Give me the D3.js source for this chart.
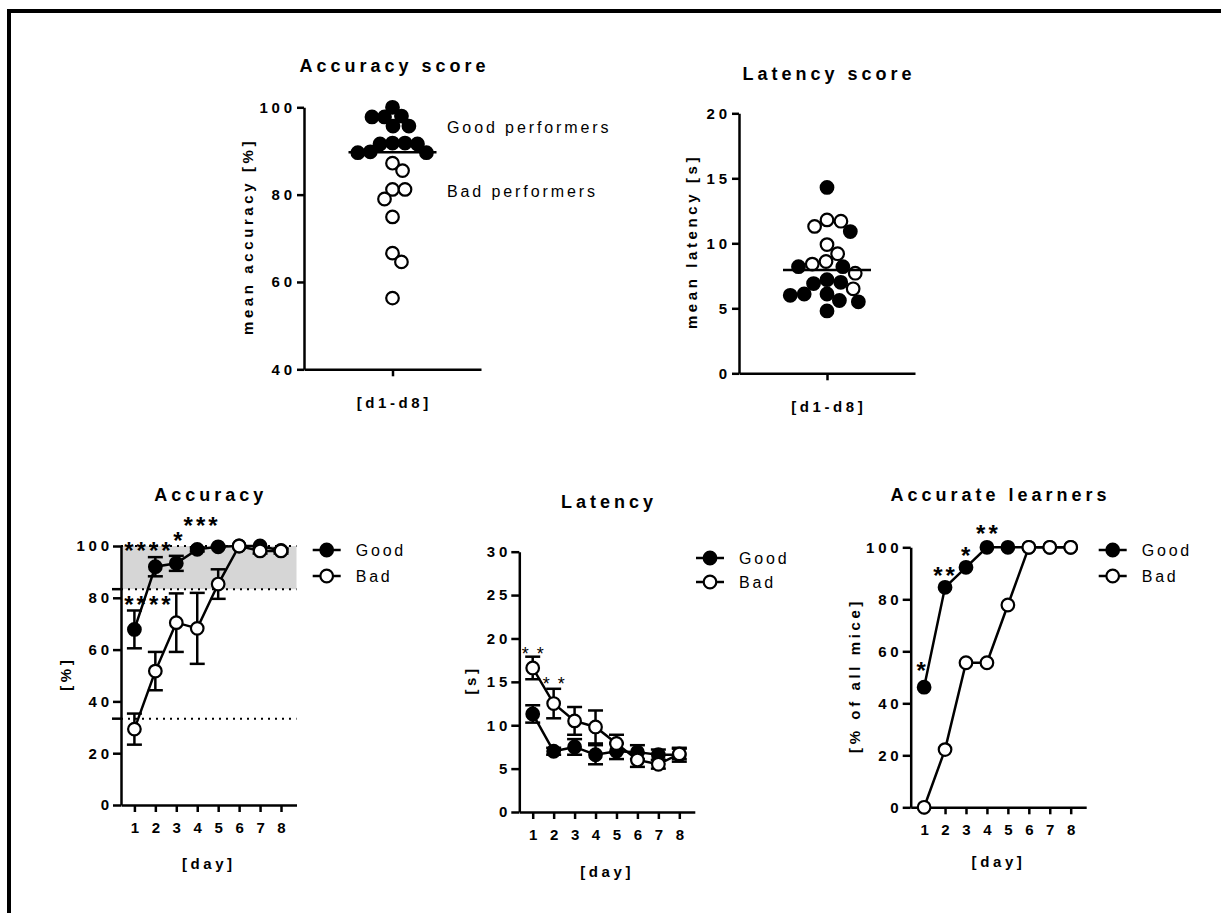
<!DOCTYPE html>
<html>
<head>
<meta charset="utf-8">
<script src="https://cdn.jsdelivr.net/npm/d3@7"></script>
<style>
body { margin: 0; background: #fff; }
text { font-family: "Liberation Sans", Arial, sans-serif; fill: #000; }
</style>
</head>
<body>
<script>
// mean score per mouse over d1-d8
var accGood = [100, 98, 97.8, 97.8, 95.7, 95.7, 91.8, 91.8, 91.6, 91.6, 89.8, 89.6, 89.6];
var accBad = [87.2, 85.5, 81.2, 81.2, 79, 74.9, 66.6, 64.6, 56.3];
var latGood = [14.3, 10.9, 8.2, 8.2, 7.2, 7.0, 6.9, 6.1, 6.1, 6.0, 5.6, 5.5, 4.8];
var latBad = [11.8, 11.7, 11.3, 9.9, 9.2, 8.6, 8.4, 7.7, 6.5];
var scoreLabels = ["Good performers", "Bad performers"];
var scoreLabelValues = [95.5, 80.8];

// per day (mean +- sem)
var days = [1, 2, 3, 4, 5, 6, 7, 8];
var goodAcc = [67.8, 92.0, 93.3, 98.7, 99.7, 100, 100, 98.3];
var goodAccErr = [7.3, 3.7, 2.9, 0.8, 0.3, 0, 0, 0.5];
var badAcc = [29.3, 51.7, 70.4, 68.2, 85.3, 100, 98.1, 98.1];
var badAccErr = [6.0, 7.4, 11.3, 13.7, 5.7, 0, 1, 1];
var goodLat = [11.3, 7.0, 7.5, 6.6, 7.0, 6.9, 6.6, 6.6];
var goodLatErr = [1.0, 0.4, 0.9, 1.1, 0.9, 0.8, 0.6, 0.8];
var badLat = [16.6, 12.5, 10.5, 9.8, 7.9, 6.0, 5.5, 6.7];
var badLatErr = [1.3, 1.7, 1.6, 1.9, 1.0, 0.8, 0.5, 0.6];
var goodLearn = [46.2, 84.6, 92.3, 100, 100, 100, 100, 100];
var badLearn = [0, 22.2, 55.6, 55.6, 77.8, 100, 100, 100];
var groups = ["Good", "Bad"];

// significance marks (day, value)
var accStars = [{day: 1.62, value: 100.4, label: "****"}, {day: 1.62, value: 79.5, label: "****"},
                {day: 3.08, value: 104, label: "*"}, {day: 4.16, value: 110, label: "***"}];
var latStars = [{day: 1.0, value: 18.7, label: "**"}, {day: 2.0, value: 15.2, label: "**"}];
var learnStars = [{day: 0.86, value: 54.7, label: "*"}, {day: 1.95, value: 91.3, label: "**"},
                  {day: 2.98, value: 99, label: "*"}, {day: 4.0, value: 107.4, label: "**"}];

var W = 1221, H = 913;
var svg = d3.select("body").append("svg").attr("width", W).attr("height", H);

// frame, runs off right and bottom
svg.append("rect").attr("x", 9).attr("y", 11).attr("width", W + 20).attr("height", H + 20)
  .attr("fill", "none").attr("stroke", "#000").attr("stroke-width", 4);

function addText(g, x, y, str, size, weight, ls, anchor) {
  var shift = anchor == "end" ? ls : anchor == "middle" ? ls / 2 : 0;
  return g.append("text").attr("x", x + shift).attr("y", y)
    .attr("text-anchor", anchor)
    .style("font-size", size + "px").style("font-weight", weight)
    .style("letter-spacing", ls + "px").text(str);
}
function addYLabel(g, x, y, str) {
  g.append("text").attr("transform", "translate(" + x + "," + y + ") rotate(-90)")
    .attr("x", 1.8).attr("text-anchor", "middle")
    .style("font-size", "15px").style("font-weight", "bold").style("letter-spacing", "3.6px")
    .text(str);
}
function styleAxis(a, anchor) {
  a.select(".domain").attr("stroke", "#000").attr("stroke-width", 2.5);
  a.selectAll(".tick line").attr("stroke", "#000").attr("stroke-width", 2.5);
  a.selectAll("text").attr("fill", "#000").attr("dx", anchor == "end" ? 3.8 : 1.9)
    .style("font-family", "'Liberation Sans', Arial, sans-serif")
    .style("font-size", "15px").style("font-weight", "bold").style("letter-spacing", "3.8px");
}
function dot(sel, filled) {
  sel.attr("r", 6.3).attr("fill", filled ? "#000" : "#fff").attr("stroke", "#000").attr("stroke-width", 2.2);
}

// simple beeswarm: nearest free spot to the column centre
function swarm(pts, minD) {
  var placed = [];
  pts.slice().sort(function(a, b) { return a.py - b.py; }).forEach(function(p) {
    var iv = [];
    placed.forEach(function(q) {
      var dy = Math.abs(q.py - p.py);
      if (dy < minD) { var w = Math.sqrt(minD * minD - dy * dy); iv.push([q.dx - w, q.dx + w]); }
    });
    var cands = [0];
    iv.forEach(function(d) { cands.push(d[0], d[1]); });
    cands.sort(function(a, b) { return Math.abs(a) - Math.abs(b) || b - a; });
    var best = cands.find(function(c) {
      return iv.every(function(d) { return c <= d[0] + 1e-6 || c >= d[1] - 1e-6; });
    });
    p.dx = best;
    placed.push(p);
  });
}

function scatterPanel(o) {
  var g = svg.append("g");
  var x = d3.scaleLinear().domain([0, 2]).range([o.left, o.right]);
  var y = d3.scaleLinear().domain(o.domain).range([o.bottom, o.top]);

  var ya = g.append("g").attr("transform", "translate(" + o.left + ",0)")
    .call(d3.axisLeft(y).tickValues(o.ticks).tickSize(7).tickSizeOuter(0).tickPadding(5));
  styleAxis(ya, "end");
  var xa = g.append("g").attr("transform", "translate(0," + o.bottom + ")")
    .call(d3.axisBottom(x).tickValues([1]).tickFormat("").tickSize(7).tickSizeOuter(0));
  styleAxis(xa, "middle");

  var pts = [];
  o.good.forEach(function(v) { pts.push({v: v, good: true, py: y(v)}); });
  o.bad.forEach(function(v) { pts.push({v: v, good: false, py: y(v)}); });
  swarm(pts, o.gap);

  g.selectAll(".pt").data(pts.filter(function(p) { return p.good; }).concat(pts.filter(function(p) { return !p.good; })))
    .enter().append("circle")
    .attr("cx", function(p) { return x(1) + p.dx; })
    .attr("cy", function(p) { return p.py; })
    .each(function(p) { dot(d3.select(this), p.good); });

  // median line
  var med = d3.median(o.good.concat(o.bad));
  g.append("line").attr("x1", x(1) - 44).attr("x2", x(1) + 44)
    .attr("y1", y(med)).attr("y2", y(med)).attr("stroke", "#000").attr("stroke-width", 2.5);

  addText(g, (o.left + o.right) / 2, o.titleY, o.title, 18, "bold", 4, "middle");
  addYLabel(g, o.labelX, (o.top + o.bottom) / 2, o.ylabel);
  addText(g, x(1), o.bottom + 39, "[d1-d8]", 15, "bold", 3.6, "middle");
  return {g: g, x: x, y: y};
}

function linePanel(o) {
  var g = svg.append("g");
  var x = d3.scaleLinear().domain([0.36, 8.74]).range([o.left, o.left + 175.5]);
  var y = d3.scaleLinear().domain(o.domain).range([o.bottom, o.top]);

  if (o.band) {
    g.append("rect").attr("x", o.left).attr("width", x(8.74) - o.left)
      .attr("y", y(o.band[1])).attr("height", y(o.band[0]) - y(o.band[1])).attr("fill", "#d6d6d6");
  }
  (o.refs || []).forEach(function(r) {
    g.append("line").attr("x1", o.left).attr("x2", x(8.74)).attr("y1", y(r)).attr("y2", y(r))
      .attr("stroke", "#000").attr("stroke-width", 2).attr("stroke-dasharray", "2,5");
    if (r < o.domain[1]) g.append("line").attr("x1", o.left - 9).attr("x2", o.left).attr("y1", y(r)).attr("y2", y(r))
      .attr("stroke", "#000").attr("stroke-width", 2.5);
  });

  var ya = g.append("g").attr("transform", "translate(" + o.left + ",0)")
    .call(d3.axisLeft(y).tickValues(o.ticks).tickSize(8).tickSizeOuter(0).tickPadding(4));
  styleAxis(ya, "end");
  var xa = g.append("g").attr("transform", "translate(0," + o.bottom + ")")
    .call(d3.axisBottom(x).tickValues(days).tickSize(7).tickSizeOuter(0).tickPadding(10));
  styleAxis(xa, "middle");

  var line = d3.line().x(function(d) { return x(d.day); }).y(function(d) { return y(d.v); });
  o.series.forEach(function(s, si) {
    var data = days.map(function(d, i) { return {day: d, v: s.values[i], e: s.errs ? s.errs[i] : 0}; });
    var bars = data.filter(function(d) { return d.e > 0; });
    var eb = g.append("g").attr("stroke", "#000").attr("stroke-width", 2.5);
    bars.forEach(function(d) {
      eb.append("line").attr("x1", x(d.day)).attr("x2", x(d.day)).attr("y1", y(d.v - d.e)).attr("y2", y(d.v + d.e));
      [d.v - d.e, d.v + d.e].forEach(function(v) {
        eb.append("line").attr("x1", x(d.day) - 7.5).attr("x2", x(d.day) + 7.5).attr("y1", y(v)).attr("y2", y(v));
      });
    });
    g.append("path").datum(data).attr("d", line).attr("fill", "none").attr("stroke", "#000").attr("stroke-width", 2.5);
    g.selectAll(".s" + si).data(data).enter().append("circle")
      .attr("cx", function(d) { return x(d.day); }).attr("cy", function(d) { return y(d.v); })
      .call(dot, si == 0);
  });

  // legend
  groups.forEach(function(name, i) {
    var ly = o.legY + i * o.legGap;
    g.append("line").attr("x1", o.legX - 14).attr("x2", o.legX + 14).attr("y1", ly).attr("y2", ly)
      .attr("stroke", "#000").attr("stroke-width", 2.5);
    g.append("circle").attr("cx", o.legX).attr("cy", ly).call(dot, i == 0);
    addText(g, o.legX + 29, ly + 5.7, name, 16, "normal", 2.8, "start");
  });

  o.stars.forEach(function(s) {
    addText(g, x(s.day), y(s.value) + 0.575 * o.starSize, s.label, o.starSize, o.starWeight, o.starLs, "middle");
  });

  addText(g, o.left + 87.75, o.titleY, o.title, 18, "bold", 4, "middle");
  addYLabel(g, o.labelX, (o.top + o.bottom) / 2, o.ylabel);
  addText(g, o.left + 86, o.dayY, "[day]", 15, "bold", 3.6, "middle");
}

// top row
var p1 = scatterPanel({left: 304, right: 481, top: 107.3, bottom: 369.3, domain: [40, 100], ticks: [40, 60, 80, 100],
  good: accGood, bad: accBad, gap: 12.5, title: "Accuracy score", titleY: 72, ylabel: "mean accuracy [%]", labelX: 253});
scoreLabels.forEach(function(t, i) {
  addText(p1.g, 447, p1.y(scoreLabelValues[i]) + 5.8, t, 16, "normal", 2.9, "start");
});
scatterPanel({left: 739, right: 915, top: 113.3, bottom: 373.3, domain: [0, 20], ticks: [0, 5, 10, 15, 20],
  good: latGood, bad: latBad, gap: 14, title: "Latency score", titleY: 80, ylabel: "mean latency [s]", labelX: 697});

// bottom row
linePanel({left: 121, top: 546, bottom: 805, domain: [0, 100], ticks: [0, 20, 40, 60, 80, 100],
  band: [83.33, 100], refs: [100, 83.33, 33.33],
  series: [{values: goodAcc, errs: goodAccErr}, {values: badAcc, errs: badAccErr}],
  stars: accStars, starSize: 24, starWeight: "bold", starLs: 3,
  legX: 326.7, legY: 550, legGap: 26,
  title: "Accuracy", titleY: 501, ylabel: "[%]", labelX: 71, dayY: 869});
linePanel({left: 519.3, top: 551.7, bottom: 812, domain: [0, 30], ticks: [0, 5, 10, 15, 20, 25, 30],
  series: [{values: goodLat, errs: goodLatErr}, {values: badLat, errs: badLatErr}],
  stars: latStars, starSize: 18, starWeight: "normal", starLs: 8,
  legX: 710, legY: 558, legGap: 24,
  title: "Latency", titleY: 508, ylabel: "[s]", labelX: 476, dayY: 877});
linePanel({left: 910.7, top: 547.3, bottom: 807.3, domain: [0, 100], ticks: [0, 20, 40, 60, 80, 100],
  series: [{values: goodLearn}, {values: badLearn}],
  stars: learnStars, starSize: 24, starWeight: "bold", starLs: 3,
  legX: 1112.7, legY: 550, legGap: 26,
  title: "Accurate learners", titleY: 501, ylabel: "[% of all mice]", labelX: 860, dayY: 867});
</script>
</body>
</html>
